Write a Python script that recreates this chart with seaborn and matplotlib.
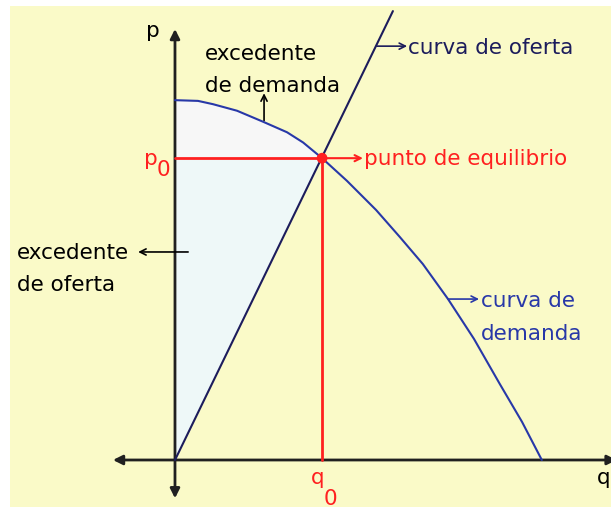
import matplotlib
matplotlib.use('Agg')
import matplotlib.pyplot as plt
import seaborn as sns

# curva de demanda
q_demanda = [0, 0.63, 1.04, 1.70, 2.41, 3.07, 3.51, 4.03, 4.71, 5.51,
             6.16, 6.79, 7.48, 8.19, 8.90, 9.51, 10.05]
p_demanda = [9.86, 9.84, 9.75, 9.57, 9.27, 8.98, 8.70, 8.27, 7.65, 6.85,
             6.11, 5.37, 4.41, 3.32, 2.08, 1.04, 0]

# curva de oferta (recta desde el origen)
q_oferta = [0, 5.97]
p_oferta = [0, 12.30]

# punto de equilibrio
q0 = 4.03
p0 = 8.27

# colores
fondo = '#FAFAC8'
azul = '#2838A8'
azul_osc = '#1C1C5C'
rojo = '#FF2020'
fs = 15.5

sns.set_style('white')
plt.rcParams['font.family'] = ['DejaVu Sans']
plt.rcParams['text.color'] = 'black'

fig = plt.figure(figsize=(6.11, 5.10), dpi=100, facecolor='white')
ax = fig.add_axes([10/611, 2/510, 601/611, 501/510])
ax.set_facecolor(fondo)
ax.set_xlim(-4.52, 11.945)
ax.set_ylim(-1.288, 12.44)
ax.axis('off')
ax.add_patch(plt.Rectangle((0, 0), 1, 1, transform=ax.transAxes, color=fondo, zorder=0))

# excedentes sombreados
n_eq = q_demanda.index(q0) + 1
ax.fill_between(q_demanda[:n_eq], p_demanda[:n_eq], p0, color='#F7F7F7', lw=0, zorder=1)
ax.fill([0, 0, q0], [0, p0, p0], color='#EEF8F8', lw=0, zorder=1)

# ejes con flechas
ejes = dict(arrowstyle='<|-|>', lw=2, color='#202020', mutation_scale=14,
            shrinkA=0, shrinkB=0)
ax.annotate('', xy=(0, 11.81), xytext=(0, -1.05), arrowprops=ejes, zorder=3)
ax.annotate('', xy=(-1.70, 0), xytext=(12.1, 0), arrowprops=ejes, zorder=3)

# curvas
sns.lineplot(x=q_demanda, y=p_demanda, ax=ax, color=azul, lw=1.5, zorder=4)
sns.lineplot(x=q_oferta, y=p_oferta, ax=ax, color=azul_osc, lw=1.5, zorder=4)

# lineas de equilibrio
ax.plot([0, q0], [p0, p0], color=rojo, lw=2, zorder=5)
ax.plot([q0, q0], [p0, 0], color=rojo, lw=2, zorder=5)
sns.scatterplot(x=[q0], y=[p0], ax=ax, color=rojo, s=60, edgecolor='none', zorder=6)

flecha = dict(arrowstyle='->', lw=1.2, mutation_scale=11, shrinkA=0, shrinkB=0)

# textos
ax.text(-0.60, 11.62, 'p', fontsize=fs, color='black', ha='center', va='baseline')
ax.text(11.93, -0.63, 'q', fontsize=fs, color='black', ha='right', va='baseline')

ax.text(0.82, 10.99, 'excedente', fontsize=fs, color='black', ha='left', va='baseline')
ax.text(0.82, 10.11, 'de demanda', fontsize=fs, color='black', ha='left', va='baseline')
ax.annotate('', xy=(2.44, 10.05), xytext=(2.44, 9.30),
            arrowprops=dict(flecha, color='black'))

ax.annotate('', xy=(6.36, 11.34), xytext=(5.53, 11.34),
            arrowprops=dict(flecha, color=azul_osc))
ax.text(6.38, 11.15, 'curva de oferta', fontsize=fs, color=azul_osc,
        ha='left', va='baseline')

ax.annotate('', xy=(5.15, p0), xytext=(q0, p0),
            arrowprops=dict(flecha, color=rojo, lw=1.5), zorder=5)
ax.text(5.18, 8.10, 'punto de equilibrio', fontsize=fs, color=rojo,
        ha='left', va='baseline')

ax.text(-0.66, 8.12, 'p', fontsize=fs, color=rojo, ha='center', va='baseline')
ax.text(-0.32, 7.81, '0', fontsize=fs, color=rojo, ha='center', va='baseline')
ax.text(3.92, -0.63, 'q', fontsize=fs, color=rojo, ha='center', va='baseline')
ax.text(4.25, -1.21, '0', fontsize=fs, color=rojo, ha='center', va='baseline')

ax.text(-4.33, 5.53, 'excedente', fontsize=fs, color='black', ha='left', va='baseline')
ax.text(-4.33, 4.66, 'de oferta', fontsize=fs, color='black', ha='left', va='baseline')
ax.annotate('', xy=(-1.01, 5.70), xytext=(0.36, 5.70),
            arrowprops=dict(flecha, color='black'))

ax.annotate('', xy=(8.33, 4.41), xytext=(7.48, 4.41),
            arrowprops=dict(flecha, color=azul))
ax.text(8.38, 4.22, 'curva de', fontsize=fs, color=azul, ha='left', va='baseline')
ax.text(8.38, 3.32, 'demanda', fontsize=fs, color=azul, ha='left', va='baseline')

fig.savefig('out.png', dpi=100, facecolor='white')
